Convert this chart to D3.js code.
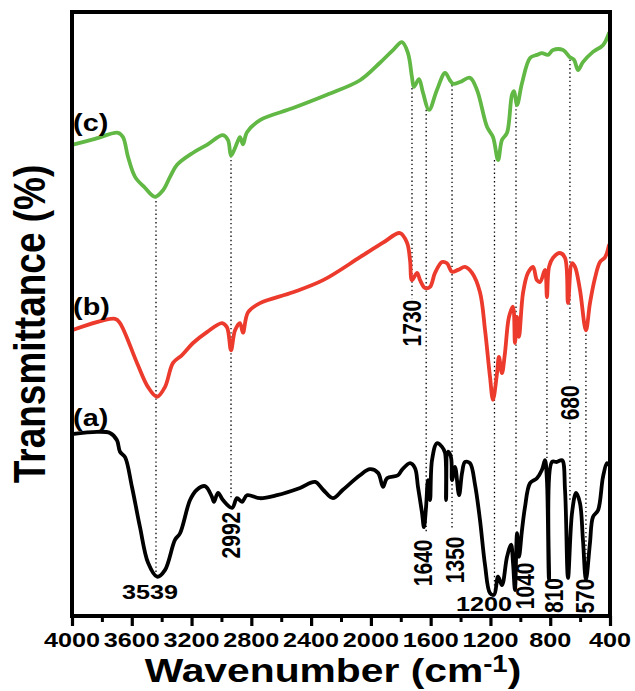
<!DOCTYPE html>
<html><head><meta charset="utf-8">
<script src="https://cdn.jsdelivr.net/npm/d3@7"></script>
<style>body{margin:0;background:#fff}svg text{font-family:"Liberation Sans",Arial,sans-serif;font-weight:bold;}</style>
</head><body>
<svg id="chart" width="635" height="691"></svg>
<script>
// ---- data: [wavenumber (cm-1), transmittance (a.u., offset)] ----
const seriesA = [[4000,30.1],[3833,30.5],[3746,30.3],[3699,29.1],[3679,27.2],[3645,26.3],[3599,21.4],[3545,14.7],[3491,8.8],[3431,6.5],[3378,7.6],[3311,12.6],[3277,13.7],[3210,19.2],[3164,20.9],[3110,21.5],[3063,19.7],[3050,18.9],[3023,20.4],[2990,19.2],[2929,17.9],[2896,19.5],[2862,18.9],[2829,20.0],[2742,19.5],[2628,20.0],[2474,21.2],[2374,22.2],[2320,20.9],[2254,19.5],[2187,20.9],[2073,23.3],[2006,24.3],[1952,23.7],[1919,21.4],[1892,22.8],[1819,23.3],[1792,24.2],[1738,25.3],[1705,24.5],[1685,21.4],[1658,17.1],[1645,14.7],[1631,18.0],[1618,22.5],[1604,19.2],[1591,25.8],[1558,28.6],[1524,28.0],[1504,27.0],[1497,19.2],[1484,27.2],[1464,26.3],[1457,22.5],[1437,24.7],[1410,20.0],[1390,23.7],[1370,25.5],[1337,25.3],[1303,21.7],[1270,15.9],[1236,8.4],[1203,3.8],[1176,3.5],[1149,6.5],[1123,5.1],[1089,9.8],[1062,11.8],[1049,8.8],[1036,4.3],[1022,13.7],[1009,9.8],[989,14.2],[969,18.0],[935,22.0],[889,22.8],[855,24.2],[835,25.8],[822,22.5],[808,6.0],[788,25.5],[755,25.5],[721,25.8],[701,20.9],[681,6.3],[654,17.1],[627,20.4],[601,18.7],[581,12.6],[561,6.0],[534,12.1],[514,16.4],[480,17.5],[447,23.0],[420,25.3],[407,25.0]];
const seriesB = [[4000,47.3],[3712,49.2],[3679,48.5],[3565,41.9],[3491,37.9],[3431,36.3],[3378,37.9],[3324,41.9],[3264,43.2],[3190,45.2],[3097,47.0],[2996,48.5],[2963,47.8],[2936,44.0],[2909,47.3],[2876,48.5],[2856,46.9],[2822,50.3],[2742,51.8],[2521,53.6],[2320,55.6],[2073,59.4],[1919,61.8],[1805,63.4],[1758,61.8],[1738,58.9],[1725,55.6],[1691,56.8],[1671,55.6],[1638,54.3],[1604,54.5],[1571,56.8],[1524,58.6],[1491,58.4],[1457,57.0],[1417,57.3],[1370,57.8],[1323,56.8],[1270,53.6],[1236,47.3],[1203,39.6],[1183,35.8],[1156,40.2],[1143,42.9],[1123,40.2],[1103,43.5],[1076,49.5],[1049,51.2],[1036,45.2],[1022,49.5],[1009,46.2],[982,53.5],[949,56.8],[915,57.8],[889,55.6],[868,55.3],[835,57.3],[822,52.8],[808,57.8],[781,59.3],[735,60.1],[701,59.3],[681,51.8],[654,58.4],[634,57.8],[601,54.0],[561,47.3],[534,51.8],[500,56.0],[467,58.6],[433,59.4],[407,61.4]];
const seriesC = [[4000,78.0],[3846,79.0],[3692,80.0],[3659,79.3],[3625,76.0],[3578,72.7],[3512,70.9],[3445,69.4],[3391,70.5],[3344,72.7],[3297,74.7],[3190,76.7],[3097,78.0],[2990,79.6],[2956,78.8],[2936,76.2],[2909,77.5],[2896,78.3],[2876,79.3],[2856,78.1],[2829,80.1],[2742,82.1],[2521,84.1],[2294,86.3],[2073,88.7],[1939,91.6],[1852,93.7],[1792,95.0],[1752,93.2],[1725,89.2],[1712,87.6],[1678,88.9],[1651,86.6],[1611,83.8],[1558,87.1],[1504,89.9],[1471,88.7],[1450,88.1],[1404,88.4],[1337,89.1],[1290,87.1],[1223,81.0],[1183,79.3],[1149,75.5],[1123,78.8],[1089,80.0],[1056,86.3],[1042,86.9],[1022,84.6],[989,88.2],[935,92.4],[889,92.9],[855,93.2],[815,92.9],[781,93.7],[714,93.7],[668,92.5],[641,92.1],[614,90.4],[581,91.7],[514,93.4],[447,94.5],[407,96.5]];
const seriesNames = ["(a)","(b)","(c)"];
const seriesColors = ["#000000","#ec3a2d","#62b845"];
const seriesLabelT = [32.8,51.2,81.6];

const majorTicks = [4000,3600,3200,2800,2400,2000,1600,1200,800,400];
const minorTicks = [3800,3400,3000,2600,2200,1800,1400,1000,600];

// peak annotations: label, wavenumber of dotted guide, guide segments (T ranges)
const peakLabels = ["3539","2992","1730","1640","1350","1200","1040","810","680","570"];
const peakWave   = [3438,2936,1725,1630,1457,1173,1029,822,668,561];
const peakGuides = [[[69.4,6.5]],[[76.2,19.2]],[[87.4,52.6]],[[83.8,13.7]],[[87.9,14.2]],[[75.5,3.8]],[[84.6,14.7]],[[52.8,25.8]],[[92.1,38.6],[32.0,19.2]],[[47.3,6.3]]];
// label anchor (wavenumber, T) and orientation
const peakLabelWave = [3478,2936,1725,1651,1437,1243,969,775,668,567];
const peakLabelT    = [4.0,13.4,48.5,8.8,9.3,2.0,5.0,3.4,35.3,3.3];
const peakVertical  = [false,true,true,true,true,false,true,true,true,true];

// ---- drawing ----
const svg = d3.select("#chart");
const x = d3.scaleLinear().domain([4000,400]).range([72,610]);
const y = d3.scaleLinear().domain([0,100]).range([616,12]);
const SX = 1.2;

// guides
peakWave.forEach((w,i)=>{
  peakGuides[i].forEach(seg=>{
    svg.append("line").attr("x1",x(w)).attr("x2",x(w))
      .attr("y1",y(seg[0])).attr("y2",y(seg[1]))
      .attr("stroke","#000").attr("stroke-width",1.3)
      .attr("stroke-dasharray","1.4,2.8");
  });
});

// curves
const line = d3.line().x(d=>x(d[0])).y(d=>y(d[1])).curve(d3.curveCatmullRom.alpha(0.5));
[seriesA,seriesB,seriesC].forEach((s,i)=>{
  svg.append("path").datum(s).attr("d",line)
    .attr("fill","none").attr("stroke",seriesColors[i])
    .attr("stroke-width",3.8).attr("stroke-linejoin","round").attr("stroke-linecap","round");
});

// frame
svg.append("rect").attr("x",x(4000)).attr("y",y(100))
  .attr("width",x(400)-x(4000)).attr("height",y(0)-y(100))
  .attr("fill","none").attr("stroke","#000").attr("stroke-width",4);

// axis
const axisG = svg.append("g").attr("transform",`translate(0,${y(0)})`);
axisG.call(d3.axisBottom(x).tickValues(majorTicks).tickSize(10).tickFormat(""))
  .call(g=>g.select(".domain").remove())
  .call(g=>g.selectAll("line").attr("stroke-width",3.2));
const minorG = svg.append("g").attr("transform",`translate(0,${y(0)})`);
minorG.call(d3.axisBottom(x).tickValues(minorTicks).tickSize(6).tickFormat(""))
  .call(g=>g.select(".domain").remove())
  .call(g=>g.selectAll("line").attr("stroke-width",3));

majorTicks.forEach(t=>{
  svg.append("g").attr("transform",`translate(${x(t)},647) scale(1.2,1)`)
    .append("text").attr("text-anchor","middle").attr("font-size",21).text(t);
});

// axis titles
const xt = svg.append("g").attr("transform",`translate(333,682) scale(${SX},1)`)
  .append("text").attr("text-anchor","middle").attr("font-size",34);
xt.append("tspan").text("Wavenumber (cm");
xt.append("tspan").attr("font-size",23).attr("dy",-10).text("-1");
xt.append("tspan").attr("dy",10).text(")");

svg.append("g").attr("transform",`translate(45,324) scale(${SX},1) rotate(-90)`)
  .append("text").attr("text-anchor","middle").attr("font-size",37).text("Transmittance (%)");

// series labels
seriesNames.forEach((n,i)=>{
  svg.append("g").attr("transform",`translate(${x(3993)},${y(seriesLabelT[i])}) scale(${SX},1)`)
    .append("text").attr("dominant-baseline","central").attr("font-size",24).text(n);
});

// peak labels
peakLabels.forEach((lab,i)=>{
  const g = svg.append("g").attr("transform",
    `translate(${x(peakLabelWave[i])},${y(peakLabelT[i])}) scale(${SX},1)` + (peakVertical[i]?" rotate(-90)":""));
  g.append("text").attr("text-anchor","middle").attr("dominant-baseline","central")
    .attr("font-size",21).text(lab);
});
</script>
</body></html>
